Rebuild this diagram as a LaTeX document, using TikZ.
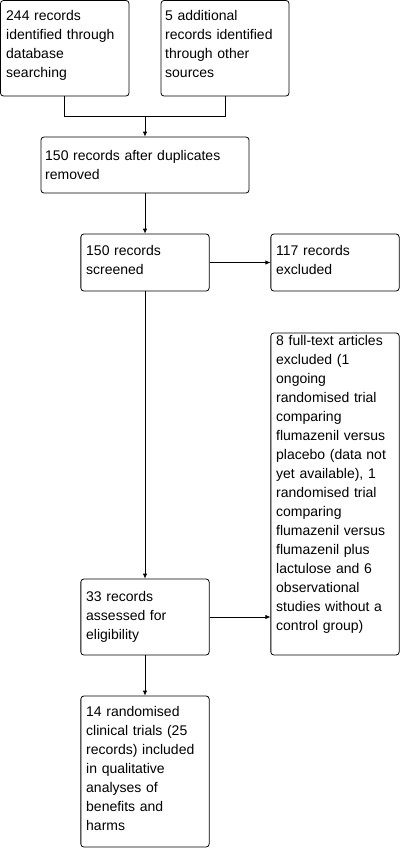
\documentclass[tikz,border=0pt]{standalone}
\usepackage{fontspec}
\setmainfont{Liberation Sans}
\usetikzlibrary{arrows.meta}
\begin{document}
\begin{tikzpicture}[x=1pt,y=-1pt,
  box/.style={draw=black, line width=0.8pt, rounded corners=3pt, inner sep=0pt, fill=white},
  txt/.style={anchor=base west, inner sep=0pt, align=left, text width=125pt, font=\fontsize{14}{19}\selectfont},
  conn/.style={draw=black, line width=0.8pt},
  arr/.style={conn, -{Latex[length=5pt,width=4.5pt]}}]
\useasboundingbox (0,0) rectangle (402,849);
% boxes
\node[box, minimum width=128.5pt, minimum height=95.5pt] (b1) at (64.75,48.25) {};
\node[box, minimum width=128pt, minimum height=95.5pt] (b2) at (225,48.25) {};
\node[box, minimum width=208pt, minimum height=56pt] (b3) at (145,165) {};
\node[box, minimum width=128.3pt, minimum height=57pt] (b4) at (145,262.5) {};
\node[box, minimum width=128.3pt, minimum height=57pt] (b5) at (335,262.5) {};
\node[box, minimum width=128.3pt, minimum height=322pt] (b6) at (335,494) {};
\node[box, minimum width=128.3pt, minimum height=76pt] (b7) at (145,617) {};
\node[box, minimum width=128.3pt, minimum height=151pt] (b8) at (145,771.5) {};
% texts
\node[txt] (t1) at (6,20) {244 records\\identified through\\database\\searching};
\node[txt] (t2) at (165,20) {5 additional\\records identified\\through other\\sources};
\node[txt, text width=200pt] (t3) at (45,160) {150 records after duplicates\\removed};
\node[txt] (t4) at (86,255) {150 records\\screened};
\node[txt] (t5) at (276,255) {117 records\\excluded};
\node[txt] (t6) at (276,345) {8 full-text articles\\excluded (1\\ongoing\\randomised trial\\comparing\\flumazenil versus\\placebo (data not\\yet available), 1\\randomised trial\\comparing\\flumazenil versus\\flumazenil plus\\lactulose and 6\\observational\\studies without a\\control group)};
\node[txt] (t7) at (86,601.7) {33 records\\assessed for\\eligibility};
\node[txt] (t8) at (86,716) {14 randomised\\clinical trials (25\\records) included\\in qualitative\\analyses of\\benefits and\\harms};
% connectors
\coordinate (m) at (145,116);
\draw[conn] (b1.south) |- (m);
\draw[conn] (b2.south) |- (m);
\draw[arr] (m) -- (b3.north);
\draw[arr] (b3.south) -- (b4.north);
\draw[arr] (b4.east) -- (b5.west);
\draw[arr] (b4.south) -- (b7.north);
\draw[arr] (b7.east) -- (b7.east -| b6.west);
\draw[arr] (b7.south) -- (b8.north);
\end{tikzpicture}
\end{document}
